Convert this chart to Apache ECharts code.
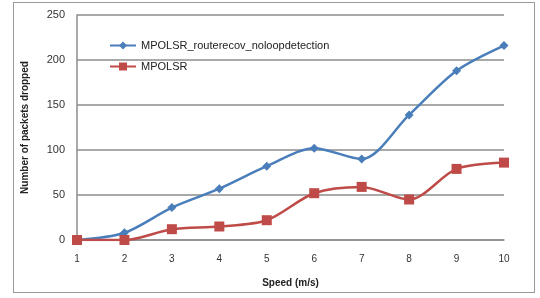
<!DOCTYPE html>
<html>
<head>
<meta charset="utf-8">
<script src="https://cdn.jsdelivr.net/npm/echarts@6/dist/echarts.min.js"></script>
<style>
  html, body { margin: 0; padding: 0; background: #fff; }
  #frame { position: absolute; left: 13px; top: 2px; width: 520px; height: 289px; border: 1px solid #9a9a9a; }
  #chart { position: absolute; left: 0; top: 0; width: 540px; height: 298px; }
</style>
</head>
<body>
<div id="frame"></div>
<div id="chart"></div>
<script>
const speeds = ["1", "2", "3", "4", "5", "6", "7", "8", "9", "10"];
const noLoopDetection = [0, 8, 36, 57, 82, 102, 90, 139, 188, 216];
const mpolsr = [0, 0, 12, 15, 22, 52, 59, 45, 79, 86];
const seriesNames = ["MPOLSR_routerecov_noloopdetection", "MPOLSR"];

const chart = echarts.init(document.getElementById("chart"));
const font = "Liberation Sans";
chart.setOption({
  animation: false,
  grid: { left: 77, right: 36, top: 15, bottom: 58 },
  legend: {
    orient: "vertical",
    left: 104,
    top: 35,
    itemGap: 10,
    itemWidth: 26,
    itemHeight: 10,
    textStyle: { fontFamily: font, fontSize: 11, color: "#222" },
    data: seriesNames
  },
  xAxis: {
    type: "category",
    data: speeds,
    boundaryGap: false,
    name: "Speed (m/s)",
    nameLocation: "middle",
    nameGap: 38,
    nameTextStyle: { fontFamily: font, fontSize: 10, fontWeight: "bold", color: "#222" },
    axisLine: { lineStyle: { color: "#8c8c8c", width: 1.5 } },
    axisTick: { show: false },
    axisLabel: { fontFamily: font, fontSize: 10, color: "#333", margin: 14 },
    splitLine: { show: false }
  },
  yAxis: {
    type: "value",
    min: 0,
    max: 250,
    interval: 50,
    name: "Number of packets dropped",
    nameLocation: "middle",
    nameGap: 47,
    nameTextStyle: { fontFamily: font, fontSize: 10, fontWeight: "bold", color: "#222" },
    axisLine: { show: true, lineStyle: { color: "#8c8c8c", width: 1.5 } },
    axisTick: { show: false },
    axisLabel: { fontFamily: font, fontSize: 11, color: "#333", margin: 12 },
    splitLine: { lineStyle: { color: "#8c8c8c", width: 1.5 } }
  },
  series: [
    {
      name: seriesNames[0],
      type: "line",
      data: noLoopDetection,
      smooth: 0.3,
      symbol: "diamond",
      symbolSize: 9,
      lineStyle: { color: "#4a7ebb", width: 2.5 },
      itemStyle: { color: "#4a7ebb" }
    },
    {
      name: seriesNames[1],
      type: "line",
      data: mpolsr,
      smooth: 0.3,
      symbol: "rect",
      symbolSize: 10,
      lineStyle: { color: "#be4b48", width: 2.5 },
      itemStyle: { color: "#be4b48" }
    }
  ]
});
</script>
</body>
</html>
